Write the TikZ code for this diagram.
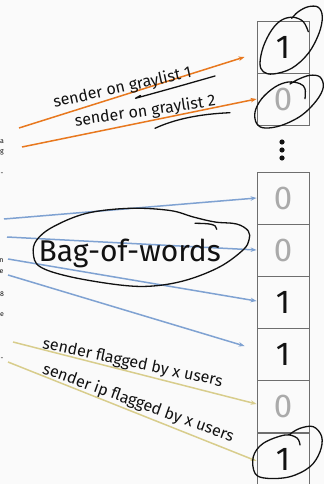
\documentclass[tikz,border=0pt]{standalone}
\usepackage{fontspec}
\setmainfont{Fira Sans}
\usetikzlibrary{arrows.meta}
\definecolor{bg}{HTML}{FAFAFA}
\definecolor{boxline}{HTML}{6E6E6E}
\definecolor{zerogray}{HTML}{AAAAAA}
\definecolor{orangeline}{HTML}{E8781E}
\definecolor{blueline}{HTML}{7FA2D2}
\definecolor{yellowline}{HTML}{D8CD8C}
\definecolor{ink}{HTML}{111111}
\begin{document}
\begin{tikzpicture}[x=1pt,y=-1pt,
  cell/.style={draw=boxline,line width=0.9pt,minimum width=52pt,minimum height=52pt,inner sep=0pt,font=\fontsize{33}{33}\selectfont},
  one/.style={cell,text=ink},
  zero/.style={cell,text=zerogray},
  tip/.style={-{Stealth[length=6pt,width=4.5pt]}},
  orangearrow/.style={tip,draw=orangeline,line width=1.5pt},
  bluearrow/.style={tip,draw=blueline,line width=1.5pt},
  yellowarrow/.style={tip,draw=yellowline,line width=1.5pt},
  lab/.style={anchor=base,inner sep=0pt,font=\fontsize{16}{16}\selectfont,text=ink},
  pen/.style={draw=ink,line width=1.3pt,line cap=round,line join=round},
  frag/.style={inner sep=0pt,font=\fontsize{7}{7}\selectfont,text=ink}
]
\useasboundingbox[fill=bg] (0,0) rectangle (324,484);

% column of cells
\node[one]  (c1) at (283,47)  {1};
\node[zero] (c2) at (283,99)  {0};
\node[zero] (c3) at (283,198) {0};
\node[zero] (c4) at (283,250) {0};
\node[one]  (c5) at (283,302) {1};
\node[one]  (c6) at (283,354) {1};
\node[zero] (c7) at (283,406) {0};
\node[one]  (c8) at (283,459) {1};

% vertical dots
\fill[ink] (282,142) circle (2.6);
\fill[ink] (282,150) circle (2.6);
\fill[ink] (282,158) circle (2.6);

% left-edge text fragments
\node[frag] (f1) at (2,142) {a};
\node[frag] (f2) at (2,152) {g};
\node[frag] (f3) at (2,174) {-};
\node[frag] (f4) at (1.5,261) {n};
\node[frag] (f5) at (1.5,272) {e};
\node[frag] (f6) at (2,294) {8};
\node[frag] (f7) at (2,315) {e};
\node[frag] (f8) at (2,359) {-};

% free start points
\coordinate (o1) at (19,128);
\coordinate (o2) at (22,147);
\coordinate (b1) at (4,219);
\coordinate (b2) at (7,237);
\coordinate (b3) at (8,259);
\coordinate (b4) at (8,275);
\coordinate (y1) at (13,342);
\coordinate (y2) at (8,362);

% connectors
\draw[orangearrow] (o1) -- ([shift={(-12,10)}]c1.west);
\draw[orangearrow] (o2) -- (c2.west);
\draw[bluearrow] (b1) -- (c3.west);
\draw[bluearrow] (b2) -- (c4.west);
\draw[bluearrow] (b3) -- ([yshift=1]c5.west);
\draw[bluearrow] (b4) -- ([shift={(-12,-8)}]c6.west);
\draw[yellowarrow] (y1) -- ([yshift=2]c7.west);
\draw[yellowarrow] (y2) -- ([yshift=-2]c8.west);

% labels
\node[lab,rotate=12.5] (l1) at (123.5,92.3) {sender on graylist 1};
\node[lab,rotate=8.3] (l2) at (146,116) {sender on graylist 2};
\node[lab,rotate=-12] (l3) at (131.7,367.5) {sender flagged by x users};
\node[lab,rotate=-19.8] (l4) at (136.7,407.5) {sender ip flagged by x users};
\node[anchor=base,inner sep=0pt,font=\fontsize{30}{30}\selectfont,text=ink] (bow) at (129.7,261.7) {Bag-of-words};

% hand-drawn annotations
\draw[pen] (215,76) .. controls (180,86) .. (135.5,98.3) -- (140.5,95.5);
\draw[pen] (155,128.3) .. controls (175,119) and (200,114) .. (230,112.7);

\draw[pen] plot[smooth,tension=0.6] coordinates {(308.3,31.7) (303.3,21.7) (293.3,17.3) (281.7,20) (271.7,30) (263.3,46.7) (260,63.3) (263.3,71.7) (273.3,74) (291.7,68.3) (308.3,53.3) (319,33.3) (322.3,16.7) (318.3,7.3) (308.3,6.7) (298.3,11.7) (291.7,18.3)};

\draw[pen] plot[smooth,tension=0.6] coordinates {(305,98.7) (305,88.7) (300,83.7) (288.3,82) (275,87) (261.7,98.7) (255,112) (256.7,123.7) (265,128) (281.7,125.3) (301.7,115.3) (316.7,100.3) (323.3,87) (320,77) (310,75.3) (298.3,79.3) (290,84)};

\draw[pen] plot[smooth,tension=0.6] coordinates {(300,445) (297,438) (285,435) (263.3,443.3) (253.3,456.7) (255,473.3) (266.7,478.3) (290,476.7) (310,466.7) (320,451.7) (321.7,436.7) (313.3,426.7) (300,428.3) (290,434)};

\draw[pen] plot[smooth cycle,tension=0.6] coordinates {(236.7,224) (248.3,231) (249,240) (243,250) (220,266.7) (186.7,280) (153,286) (120,285) (70,276.7) (40,266.7) (33.3,253.3) (36.7,240) (53.3,226.7) (86.7,213.3) (130,208.3) (170,210.5) (193.3,217) (215,222)};
\draw[pen] (195,223.3) .. controls (210,223.5) and (216.5,224) .. (216.7,229.3);
\end{tikzpicture}
\end{document}
